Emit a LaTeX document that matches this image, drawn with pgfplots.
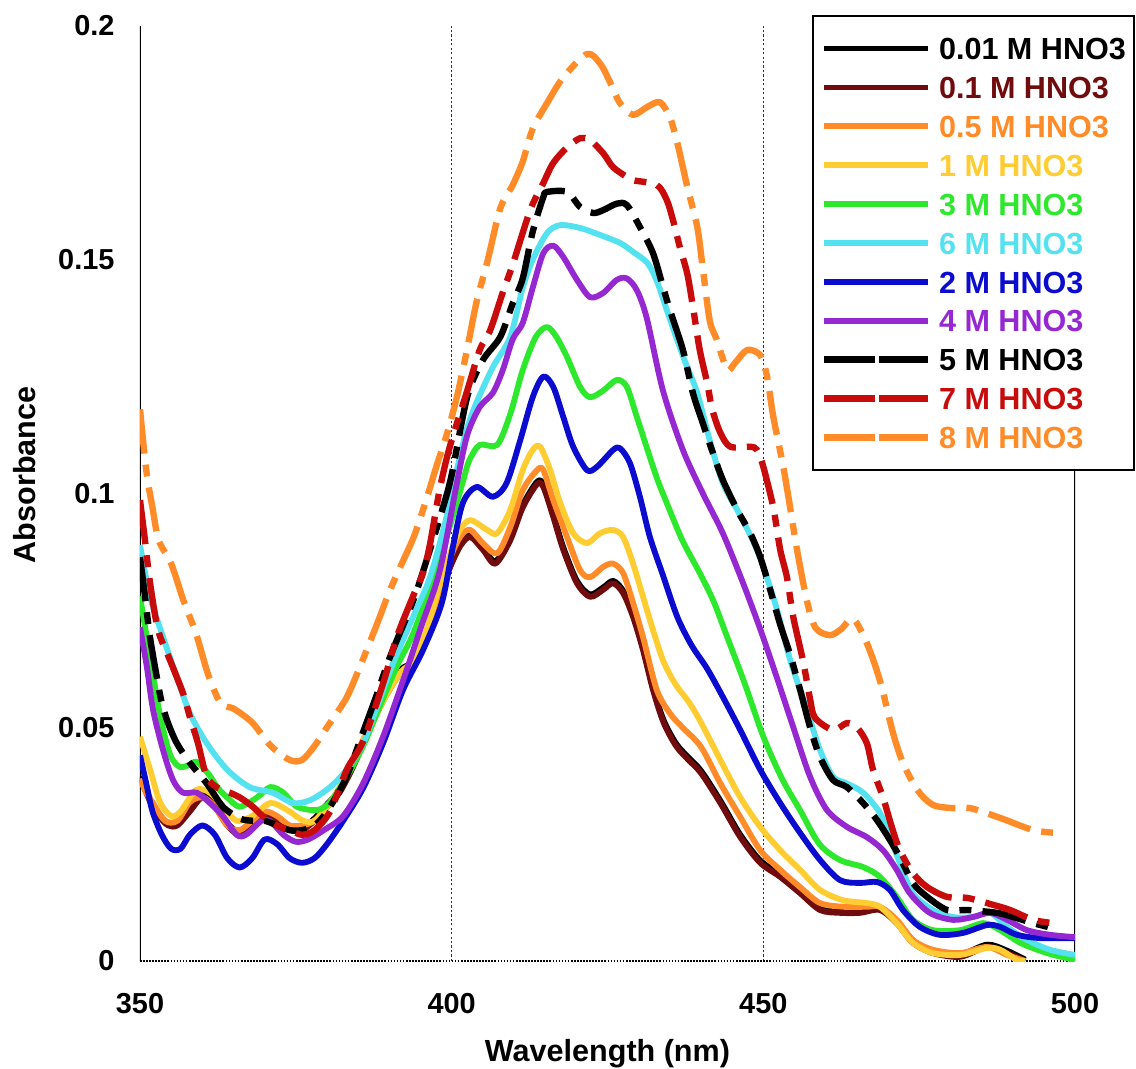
\documentclass[border=0pt]{standalone}
\usepackage{pgfplots}
\pgfplotsset{compat=1.18}
\usepackage{fontspec}
\setmainfont{Liberation Sans}
\definecolor{cA}{RGB}{0,0,0}
\definecolor{cB}{RGB}{112,12,14}
\definecolor{cC}{RGB}{255,140,40}
\definecolor{cD}{RGB}{255,204,50}
\definecolor{cE}{RGB}{45,232,45}
\definecolor{cF}{RGB}{85,226,240}
\definecolor{cG}{RGB}{12,12,208}
\definecolor{cH}{RGB}{150,40,210}
\definecolor{cI}{RGB}{0,0,0}
\definecolor{cJ}{RGB}{200,12,12}
\definecolor{cK}{RGB}{255,140,40}
\pgfplotsset{dsh/.style={dash pattern=on 16pt off 4pt on 4.3pt off 4pt, line width=2.3pt},
  dleg/.style={legend image code/.code={\path (0pt,0pt) -- (37.4pt,0pt);
     \draw[##1,solid] (13.5pt,0pt) -- (18.3pt,0pt);
     \draw[##1,solid] (21.9pt,0pt) -- (37.4pt,0pt);}}}
\begin{document}
\begin{tikzpicture}
\begin{axis}[
  at={(0,0)}, anchor=south west,
  scale only axis, width=336.6pt, height=336.6pt,
  xmin=350, xmax=500, ymin=0, ymax=0.2,
  axis line style={draw=none},
  xtick={350,400,450,500}, xticklabels={350,400,450,500},
  ytick={0,0.05,0.1,0.15,0.2}, yticklabels={0,0.05,0.1,0.15,0.2},
  major tick length=0pt, tick style={draw=none},
  xticklabel style={font=\fontsize{10.4}{12}\selectfont\bfseries, anchor=north, inner sep=0pt, yshift=-11.5pt},
  yticklabel style={font=\fontsize{10.4}{12}\selectfont\bfseries, anchor=east, inner sep=0pt, xshift=-9pt},
  xlabel={Wavelength (nm)}, ylabel={Absorbance},
  xlabel style={font=\fontsize{11}{13}\selectfont\bfseries, at={(axis description cs:0.5,0)}, anchor=base, yshift=-36pt},
  ylabel style={font=\fontsize{11}{13}\selectfont\bfseries, at={(axis description cs:-0.123,0.52)}, anchor=center},
  legend style={at={(axis description cs:1.0642,1.0118)}, anchor=north east,
    draw=black, line width=0.8pt, fill=white,
    inner xsep=2.9pt, inner ysep=7.7pt, row sep=6pt, column sep=2.9pt,
    font=\fontsize{11}{13}\selectfont\bfseries,
    nodes={inner sep=0pt, text height=8pt, text depth=0pt, anchor=west}},
  legend cell align=left,
  legend image code/.code={\path (0pt,0pt) -- (37.4pt,0pt); \draw[#1] (5.5pt,0pt) -- (37.4pt,0pt);},
  every axis plot/.append style={line width=2.1pt, smooth, line join=round},
]
% frame and grid
\draw[black!80, line width=0.4pt, dash pattern=on 0.8pt off 0.8pt] (axis cs:400,0) -- (axis cs:400,0.2);
\draw[black!80, line width=0.4pt, dash pattern=on 0.8pt off 0.8pt] (axis cs:450,0) -- (axis cs:450,0.2);
\draw[black, line width=0.45pt] (axis cs:500,0) -- (axis cs:500,0.2);
\draw[black, line width=0.6pt] (axis cs:350,0) -- (axis cs:350,0.2);
\draw[black, line width=0.7pt, dash pattern=on 0.6pt off 0.5pt] (axis cs:350,0) -- (axis cs:500,0);

% 0.01 M
\addplot[color=cA] coordinates {
(350,0.0395)(351,0.0365)(352,0.0335)(353,0.0315)(354.5,0.0295)(356,0.0295)(358,0.0325)(360,0.0355)(362,0.0335)(364,0.0295)(366,0.0275)(368,0.0295)(370,0.0315)(372,0.0305)(374,0.0285)(376,0.0285)(378,0.0305)(380,0.0335)(382,0.0365)(384,0.0415)(386,0.0475)(388,0.0535)(390,0.0585)(392,0.0625)(394,0.0642)(396,0.0698)(398,0.0785)(400,0.0855)(401.5,0.0895)(403,0.0912)(405,0.0885)(407,0.0855)(409.4,0.0905)(411.4,0.0975)(413.7,0.1025)(414.7,0.1019)(416.3,0.0955)(417.9,0.0885)(420.1,0.0813)(422.2,0.0784)(424.3,0.0799)(425.9,0.0813)(427.5,0.0792)(429.1,0.0741)(430.7,0.0670)(432.3,0.0585)(434,0.0515)(436,0.0465)(438,0.0435)(440,0.0407)(443.1,0.0343)(446.3,0.0270)(449.5,0.0215)(452.7,0.0185)(455.9,0.0150)(459.1,0.0114)(462.3,0.0108)(465.5,0.0108)(468.7,0.0114)(471.4,0.0086)(474,0.0044)(477.2,0.0022)(481.6,0.0014)(485.9,0.0035)(489.1,0.0022)(492,0.0003)};
\addlegendentry{\textcolor{cA}{0.01 M HNO3}}
% 0.1 M
\addplot[color=cB] coordinates {
(350,0.039)(351,0.036)(352,0.033)(353,0.031)(354.5,0.029)(356,0.029)(358,0.032)(360,0.035)(362,0.033)(364,0.029)(366,0.027)(368,0.029)(370,0.031)(372,0.030)(374,0.028)(376,0.028)(378,0.030)(380,0.033)(382,0.036)(384,0.041)(386,0.047)(388,0.053)(390,0.058)(392,0.062)(394,0.0637)(396,0.0693)(398,0.078)(400,0.085)(401.5,0.089)(403,0.0907)(405,0.088)(407,0.085)(409.4,0.090)(411.4,0.097)(413.7,0.102)(414.7,0.1014)(416.3,0.095)(417.9,0.088)(420.1,0.0808)(422.2,0.0779)(424.3,0.0794)(425.9,0.0808)(427.5,0.0787)(429.1,0.0736)(430.7,0.0665)(432.3,0.058)(434,0.051)(436,0.046)(438,0.043)(440,0.0402)(443.1,0.0338)(446.3,0.0265)(449.5,0.021)(452.7,0.018)(455.9,0.0145)(459.1,0.0109)(462.3,0.0103)(465.5,0.0103)(468.7,0.0109)(471.4,0.0081)(474,0.0039)(477.2,0.0017)(481.6,0.0009)(485.9,0.003)(489.1,0.0017)(492,0.0)};
\addlegendentry{\textcolor{cB}{0.1 M HNO3}}
% 0.5 M
\addplot[color=cC] coordinates {
(350,0.039)(351,0.036)(352,0.034)(354,0.030)(356,0.030)(358,0.034)(360,0.035)(362,0.033)(364,0.029)(366,0.028)(368,0.030)(370,0.032)(372,0.031)(374,0.029)(376,0.029)(378,0.030)(380,0.033)(382,0.037)(384,0.042)(386,0.047)(388,0.053)(390,0.058)(392,0.062)(394,0.064)(396,0.070)(398,0.079)(400,0.087)(401.5,0.091)(403,0.0922)(405,0.0894)(407.3,0.0872)(409.4,0.0928)(411.4,0.1007)(413.7,0.105)(414.7,0.105)(416.3,0.0986)(418.5,0.0907)(420.6,0.0836)(422.2,0.0821)(424.3,0.0843)(425.9,0.085)(427.5,0.083)(429.1,0.0766)(430.7,0.0693)(432.9,0.058)(435,0.053)(437,0.050)(440,0.0458)(443.1,0.038)(446.3,0.0308)(449.5,0.0237)(452.7,0.0195)(455.9,0.0158)(459.1,0.0124)(462.8,0.0116)(466.6,0.0116)(468.7,0.0116)(471.4,0.0088)(474,0.0045)(477.2,0.0024)(481.6,0.0017)(485.9,0.003)(489.1,0.0013)(492,0.0)};
\addlegendentry{\textcolor{cC}{0.5 M HNO3}}
% 1 M
\addplot[color=cD] coordinates {
(350,0.048)(351.6,0.041)(353.2,0.034)(355,0.031)(356.5,0.032)(359,0.0366)(361.2,0.036)(363.3,0.033)(365.5,0.030)(368,0.031)(370.9,0.0338)(373.6,0.0323)(376.2,0.030)(378,0.030)(380,0.033)(382,0.037)(384,0.042)(386,0.048)(388,0.053)(390,0.058)(392,0.062)(394,0.0645)(396,0.071)(398,0.080)(400,0.088)(401.3,0.0922)(403,0.0943)(405.7,0.0922)(407.3,0.0915)(409.4,0.0965)(411.4,0.105)(413,0.1093)(414.2,0.110)(415.8,0.105)(417.4,0.098)(419.5,0.0915)(421.7,0.0894)(423.8,0.0915)(425.9,0.0922)(427.5,0.0907)(429.1,0.085)(430.7,0.0779)(432.3,0.0708)(434,0.064)(436,0.059)(438,0.0555)(440,0.051)(443.1,0.043)(446.3,0.035)(449.5,0.0287)(452.7,0.0237)(455.9,0.0195)(459.1,0.0152)(462.8,0.013)(466.6,0.0124)(468.7,0.0116)(471.4,0.0081)(474,0.0039)(477.2,0.0017)(481.6,0.0013)(485.9,0.0028)(488,0.0024)(490.7,0.0002)(492,0)};
\addlegendentry{\textcolor{cD}{1 M HNO3}}
% 3 M
\addplot[color=cE] coordinates {
(350,0.078)(351,0.070)(352,0.062)(353,0.054)(354,0.048)(355,0.0436)(356.4,0.0415)(358,0.042)(359.1,0.0426)(361,0.040)(362.5,0.037)(364,0.035)(366,0.033)(368.8,0.035)(370.9,0.0372)(373,0.036)(375.2,0.033)(378.4,0.0323)(380.5,0.034)(383,0.039)(385.8,0.046)(388,0.053)(391.2,0.063)(393.5,0.069)(395.4,0.0757)(397.5,0.084)(399.7,0.093)(401.9,0.103)(402.8,0.107)(404.5,0.1104)(407.3,0.1104)(409.4,0.117)(411.4,0.1264)(413.5,0.1335)(415.3,0.1356)(416.8,0.1335)(418.5,0.1292)(420.6,0.1228)(422.2,0.1206)(424.3,0.122)(426.5,0.1243)(428.1,0.1228)(429.7,0.1164)(431.5,0.109)(433,0.103)(434.5,0.098)(437,0.090)(439.8,0.083)(442,0.077)(444,0.070)(447,0.0594)(450,0.048)(453,0.039)(456,0.032)(459,0.025)(462.3,0.0216)(466,0.0201)(468.7,0.018)(471.4,0.0137)(474,0.0088)(477.2,0.0066)(481.6,0.0066)(485.3,0.0081)(488,0.0066)(491.2,0.0039)(495.5,0.0017)(500,0.0002)};
\addlegendentry{\textcolor{cE}{3 M HNO3}}
% 6 M
\addplot[color=cF] coordinates {
(350,0.089)(351.6,0.078)(353.7,0.0693)(355.9,0.0607)(358,0.053)(360.7,0.0466)(364,0.0409)(367.6,0.0372)(371.3,0.036)(374.5,0.0338)(377.3,0.0344)(380.5,0.0372)(383.2,0.041)(385.8,0.0466)(388,0.0543)(390.6,0.0637)(393.8,0.0736)(396.5,0.082)(399,0.094)(401,0.106)(402.5,0.114)(404,0.1195)(406.6,0.127)(409.4,0.1335)(411.4,0.144)(413,0.150)(415.3,0.1557)(417.4,0.1574)(420.6,0.1568)(423.8,0.1553)(427,0.1536)(429.1,0.1517)(431.4,0.1493)(432.9,0.1455)(434.5,0.1393)(436,0.1335)(437.5,0.128)(439.4,0.1215)(441.4,0.1114)(443.5,0.1022)(445.8,0.0965)(448.3,0.090)(450,0.0843)(452.2,0.0751)(454.3,0.0644)(457,0.0537)(459.1,0.0451)(461.2,0.0394)(463.4,0.038)(466,0.036)(468.7,0.0317)(470.3,0.0265)(471.9,0.021)(474,0.0145)(477.2,0.0109)(480.4,0.0094)(483.6,0.0094)(486.4,0.0103)(489.1,0.0073)(492.3,0.0045)(496,0.0024)(500,0.0013)};
\addlegendentry{\textcolor{cF}{6 M HNO3}}
% 2 M
\addplot[color=cG] coordinates {
(350,0.044)(351,0.038)(352,0.032)(353.5,0.027)(355,0.024)(356.5,0.024)(358,0.027)(360,0.029)(362,0.027)(364,0.022)(366,0.020)(368,0.022)(370,0.026)(372,0.025)(374,0.022)(376,0.021)(378,0.022)(380,0.025)(382.6,0.030)(385.8,0.037)(389,0.0466)(392.2,0.058)(395.4,0.0665)(398.4,0.0765)(400.2,0.0886)(401.8,0.098)(404,0.1014)(406.6,0.0993)(408.8,0.1022)(411,0.1114)(413,0.1206)(414.7,0.125)(416.3,0.1228)(417.9,0.1164)(419.5,0.110)(421.7,0.105)(423.3,0.1057)(425.9,0.1093)(427,0.1097)(428.6,0.1065)(430.2,0.0993)(431.8,0.0907)(433.9,0.0825)(436.2,0.0736)(438.5,0.0675)(441,0.0625)(443.5,0.0565)(446.3,0.0494)(449.5,0.0409)(452.7,0.0338)(455.9,0.0274)(459.1,0.0216)(462.3,0.0173)(465.5,0.0167)(468.2,0.0169)(470.3,0.0152)(472.4,0.0109)(475.1,0.0073)(478.3,0.0056)(482,0.006)(485.9,0.0077)(488,0.0073)(490.7,0.0056)(494.4,0.0049)(500,0.0049)};
\addlegendentry{\textcolor{cG}{2 M HNO3}}
% 4 M
\addplot[color=cH] coordinates {
(350,0.0714)(351.1,0.0629)(352.1,0.0537)(353.7,0.0451)(355.3,0.0387)(356.9,0.036)(359.1,0.036)(361.2,0.0338)(363.3,0.031)(365.5,0.027)(367,0.027)(369.5,0.030)(371,0.0298)(373,0.027)(375,0.0255)(377,0.026)(379.5,0.028)(382.6,0.031)(385.8,0.038)(389,0.048)(392.2,0.060)(395.1,0.0715)(398.1,0.0835)(400.8,0.102)(402.5,0.1125)(404.5,0.1185)(406.6,0.1215)(408.2,0.1264)(409.8,0.133)(411.4,0.1365)(413,0.144)(414.7,0.1514)(416.3,0.153)(417.9,0.1506)(420.1,0.1457)(422.2,0.142)(424.3,0.1429)(426.5,0.1457)(428.1,0.146)(429.7,0.1435)(431.3,0.1375)(433.9,0.122)(437.1,0.1093)(440.3,0.100)(443.5,0.0915)(446.7,0.081)(449.5,0.071)(452.2,0.0605)(454.8,0.050)(457.5,0.0394)(460.2,0.0323)(463.4,0.0287)(466.6,0.0265)(469.2,0.0237)(471.4,0.0195)(473.5,0.0145)(476.7,0.0103)(480.4,0.0088)(483.6,0.0094)(486.4,0.0103)(489.1,0.0088)(492.3,0.0066)(496,0.0056)(500,0.0051)};
\addlegendentry{\textcolor{cH}{4 M HNO3}}
% 5 M
\addplot[color=cI, dsh, dleg] coordinates {
(350,0.0864)(350.8,0.078)(351.6,0.0693)(352.7,0.0607)(353.5,0.0552)(354.5,0.0509)(355.9,0.0466)(358,0.0424)(360.7,0.038)(363.3,0.033)(366,0.0305)(368,0.030)(370,0.030)(372,0.029)(374,0.028)(376,0.028)(378,0.029)(380,0.032)(383,0.039)(385.8,0.049)(388,0.057)(390.1,0.065)(393.8,0.077)(396,0.0858)(398.6,0.097)(400,0.104)(402.5,0.1207)(405,0.1285)(407.8,0.1335)(409.8,0.1407)(411.4,0.146)(413,0.156)(414.7,0.1634)(415.3,0.1645)(418.5,0.1645)(420.6,0.1613)(422.7,0.160)(424.3,0.1606)(426.5,0.162)(428.1,0.1617)(430.2,0.157)(432.3,0.1514)(433.9,0.1442)(435,0.1393)(437.1,0.1307)(438.7,0.1215)(440.3,0.115)(441.9,0.1087)(443.5,0.1029)(445.8,0.0965)(447.9,0.0915)(449.5,0.0864)(451.1,0.0794)(452.7,0.072)(454.3,0.0655)(455.9,0.058)(457.5,0.050)(459.1,0.0436)(461.2,0.0387)(463.4,0.0372)(466,0.0338)(468.2,0.0302)(470.3,0.0259)(471.9,0.0222)(474,0.0167)(476.3,0.0137)(479.5,0.0109)(482.7,0.0109)(487.5,0.0103)(490.1,0.0094)(493.3,0.0081)(496.5,0.007)};
\addlegendentry{\textcolor{cI}{5 M HNO3}}
% 7 M
\addplot[color=cJ, dsh, dleg] coordinates {
(350,0.0986)(350.8,0.090)(351.6,0.081)(352.9,0.0708)(354.8,0.0644)(356.9,0.0573)(358,0.0522)(359.3,0.0466)(360.7,0.0394)(362.5,0.037)(364.4,0.036)(366,0.035)(368.1,0.033)(369.7,0.031)(372,0.029)(374,0.028)(376,0.027)(378,0.028)(380.5,0.032)(383.2,0.041)(385.8,0.047)(389,0.0594)(391.2,0.0693)(393.8,0.078)(395.4,0.083)(396.5,0.089)(398.1,0.101)(399.7,0.110)(402.5,0.122)(404.5,0.1307)(406.2,0.135)(408.2,0.143)(409.8,0.149)(412.6,0.1606)(414.7,0.1664)(416.3,0.1707)(418.5,0.174)(420.6,0.176)(422.2,0.1756)(424.3,0.1728)(425.9,0.1698)(428.1,0.1677)(429.1,0.167)(432.9,0.166)(434.5,0.1628)(435.5,0.1585)(436.6,0.1527)(437.8,0.147)(438.7,0.140)(439.8,0.1307)(441,0.1236)(441.8,0.118)(443.1,0.113)(444.7,0.110)(447.9,0.110)(449,0.1093)(450,0.1057)(451.6,0.097)(452.7,0.088)(453.8,0.082)(454.8,0.0736)(456.4,0.064)(457.5,0.056)(458.3,0.052)(461.2,0.0494)(463.4,0.0509)(465,0.050)(466.6,0.0466)(467.6,0.0409)(469.2,0.035)(470.6,0.0287)(471.9,0.0237)(474,0.0188)(476.3,0.0158)(479.5,0.0137)(482.7,0.0135)(486.9,0.012)(489.6,0.0109)(493.3,0.0088)(496.5,0.0081)};
\addlegendentry{\textcolor{cJ}{7 M HNO3}}
% 8 M
\addplot[color=cK, dsh, dleg] coordinates {
(350,0.118)(351,0.105)(352,0.097)(353,0.090)(355,0.085)(357,0.077)(359,0.070)(361,0.061)(363,0.055)(365,0.054)(368,0.051)(371,0.046)(374,0.043)(376,0.043)(378,0.046)(380,0.050)(383,0.056)(385,0.062)(388,0.072)(390,0.079)(392,0.085)(394,0.091)(396,0.099)(397.6,0.106)(399.3,0.113)(400.9,0.121)(402.5,0.131)(404,0.141)(405.8,0.150)(407.8,0.161)(409.8,0.166)(411.4,0.171)(413,0.178)(415.3,0.1835)(417.9,0.189)(421.7,0.194)(423.8,0.192)(425.4,0.188)(427,0.1835)(429.1,0.181)(431.4,0.1827)(433.4,0.1837)(435,0.1805)(436.2,0.175)(437.8,0.1656)(439.4,0.157)(440.3,0.148)(441.4,0.137)(442.5,0.133)(444.2,0.1265)(445.5,0.128)(447.4,0.1307)(449.5,0.1296)(450.6,0.125)(451.6,0.1164)(453.2,0.1057)(454.3,0.097)(455.4,0.088)(457,0.077)(458.4,0.0712)(460.7,0.0697)(462.5,0.071)(464.4,0.0732)(466.6,0.068)(468.7,0.060)(470.8,0.0488)(472.4,0.0424)(474.7,0.0366)(477.2,0.0334)(480.4,0.0327)(483.2,0.0327)(488,0.0306)(493.3,0.028)(497.1,0.0274)};
\addlegendentry{\textcolor{cK}{8 M HNO3}}
\end{axis}
\pgfresetboundingbox
\path (-50.4pt,-38.88pt) rectangle (358.56pt,345.96pt);
\end{tikzpicture}
\end{document}
